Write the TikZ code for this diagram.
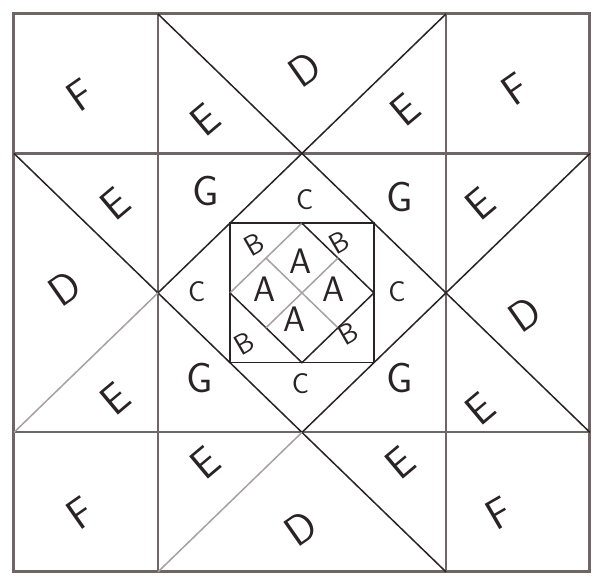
\documentclass[tikz,border=0pt]{standalone}
\usepackage{tikz}
\usetikzlibrary{positioning}

\definecolor{pencil}{HTML}{2A2325}
\definecolor{graphite}{HTML}{6F6567}
\definecolor{faint}{HTML}{A8A0A2}

\begin{document}
\begin{tikzpicture}[
    x=3cm, y=-2.906cm,
    border/.style={draw=graphite, line width=1.8pt},
    gridline/.style={draw=graphite, line width=1.3pt},
    seam/.style={draw=pencil, line width=0.9pt},
    lightseam/.style={draw=faint, line width=0.9pt},
    big/.style={font=\sffamily\fontsize{25}{25}\selectfont, text=pencil, inner sep=0pt},
    mid/.style={font=\sffamily\fontsize{21}{21}\selectfont, text=pencil, inner sep=0pt},
    small/.style={font=\sffamily\fontsize{17}{17}\selectfont, text=pencil, inner sep=0pt}
  ]
    \useasboundingbox (-0.097,-0.1) rectangle (4.056,4.036);

    % grid of the block
    \draw[gridline] (1,0) -- (1,4);
    \draw[gridline] (3,0) -- (3,4);
    \draw[gridline] (0,1) -- (4,1);
    \draw[gridline] (0,3) -- (4,3);
    \draw[border] (0,0) rectangle (4,4);

    % star points
    \coordinate (top) at (2,1);
    \coordinate (left) at (1,2);
    \coordinate (right) at (3,2);
    \coordinate (bottom) at (2,3);

    \draw[seam] (1,0) -- (top) -- (right) -- (4,3);
    \draw[seam] (0,1) -- (left) -- (bottom) -- (3,4);
    \draw[seam] (3,0) -- (top) -- (left);
    \draw[lightseam] (left) -- (0,3);
    \draw[seam] (4,1) -- (right) -- (bottom);
    \draw[lightseam] (bottom) -- (1,4);

    % centre square
    \draw[seam] (1.5,1.5) rectangle (2.5,2.5);
    \draw[lightseam] (1.5,2) -- (2,1.5);
    \draw[seam] (2,1.5) -- (2.5,2) -- (2,2.5) -- (1.5,2);
    \draw[lightseam] (1.75,1.75) -- (2.25,2.25);
    \draw[lightseam] (2.25,1.75) -- (1.75,2.25);

    % corners
    \node[big, rotate=35] (f1) at (0.46,0.58) {F};
    \node[big, rotate=35] (f2) at (3.48,0.54) {F};
    \node[big, rotate=35] (f3) at (0.46,3.58) {F};
    \node[big, rotate=30] (f4) at (3.37,3.58) {F};

    % D triangles
    \node[big, rotate=35] (d1) at (2.02,0.4) {D};
    \node[big, rotate=35] (d2) at (0.35,1.97) {D};
    \node[big, rotate=35] (d3) at (3.55,2.15) {D};
    \node[big, rotate=35] (d4) at (1.99,3.69) {D};

    % E triangles
    \node[big, rotate=40] (e1) at (1.33,0.76) {E};
    \node[big, rotate=40] (e2) at (2.72,0.69) {E};
    \node[big, rotate=40] (e3) at (0.7,1.36) {E};
    \node[big, rotate=40] (e4) at (3.24,1.36) {E};
    \node[big, rotate=40] (e5) at (0.7,2.76) {E};
    \node[big, rotate=40] (e6) at (3.24,2.83) {E};
    \node[big, rotate=40] (e7) at (1.33,3.22) {E};
    \node[big, rotate=40] (e8) at (2.68,3.22) {E};

    % G squares
    \node[big] (g1) at (1.33,1.27) {G};
    \node[big] (g2) at (2.68,1.31) {G};
    \node[big] (g3) at (1.29,2.61) {G};
    \node[big] (g4) at (2.68,2.61) {G};

    % C triangles
    \node[small] (c1) at (2.02,1.33) {C};
    \node[small] (c2) at (1.27,1.99) {C};
    \node[small] (c3) at (2.66,1.99) {C};
    \node[small] (c4) at (1.99,2.65) {C};

    % B corners
    \node[small, rotate=30] (b1) at (1.67,1.65) {B};
    \node[small, rotate=30] (b2) at (2.26,1.64) {B};
    \node[small, rotate=30] (b3) at (1.6,2.36) {B};
    \node[small, rotate=30] (b4) at (2.32,2.29) {B};

    % A diamonds
    \node[mid] (a1) at (1.99,1.77) {A};
    \node[mid] (a2) at (1.74,1.97) {A};
    \node[mid] (a3) at (2.22,1.97) {A};
    \node[mid] (a4) at (1.95,2.19) {A};
  \end{tikzpicture}
\end{document}
